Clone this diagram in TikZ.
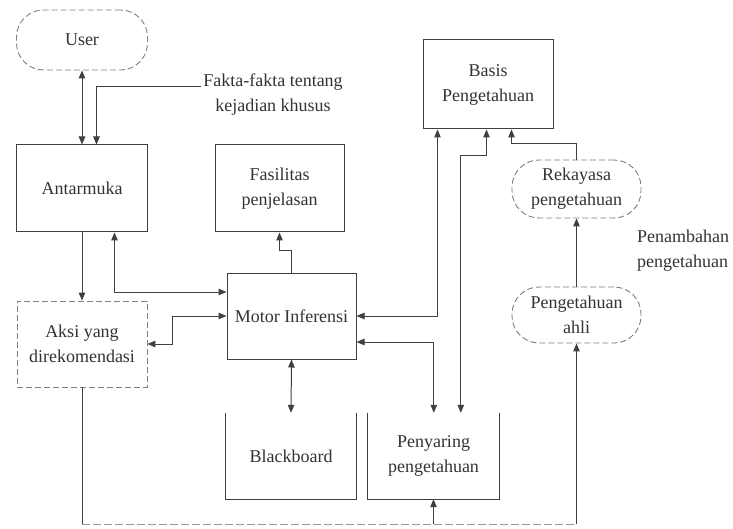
\documentclass[tikz,border=0pt]{standalone}
\usepackage{fontspec}
\setmainfont{Liberation Serif}
\usetikzlibrary{arrows.meta,calc}
\begin{document}
\begin{tikzpicture}[x=1pt,y=-1pt,
  every node/.style={font=\fontsize{18}{25}\selectfont, text=black!80, align=center, inner sep=0pt},
  box/.style={draw=black!75, line width=1pt},
  dbox/.style={draw=black!50, line width=0.9pt, dash pattern=on 6pt off 3pt},
  pill/.style={dbox, rounded corners=27pt},
  plain/.style={draw=black!75, line width=1pt},
  conn/.style={plain, -{Triangle[length=8pt,width=6.5pt]}},
  biconn/.style={plain, {Triangle[length=8pt,width=6.5pt]}-{Triangle[length=8pt,width=6.5pt]}}
]
\useasboundingbox (0,0) rectangle (733,529);
\fill[white] (0,0) rectangle (733,529);

% nodes
\node[pill, minimum width=131pt, minimum height=60pt] (user) at (82,40) {User};
\node[box, minimum width=131pt, minimum height=87pt] (antar) at (82,188.5) {Antarmuka};
\node[box, minimum width=129pt, minimum height=87pt] (fasil) at (279.5,188.5) {Fasilitas\\penjelasan};
\node[box, minimum width=130pt, minimum height=89pt] (basis) at (488,84.5) {Basis\\Pengetahuan};
\node[pill, minimum width=129pt, minimum height=58pt] (rekay) at (576.5,189) {Rekayasa\\pengetahuan};
\node[pill, minimum width=129pt, minimum height=56pt] (ahli) at (576.5,315) {Pengetahuan\\ahli};
\node[box, minimum width=129pt, minimum height=86pt] (motor) at (291.5,316) {Motor Inferensi};
\node[dbox, minimum width=130pt, minimum height=86pt] (aksi) at (82,344) {Aksi yang\\direkomendasi};
\node[minimum width=130pt, minimum height=86pt] (black) at (291,456) {Blackboard};
\node[minimum width=131pt, minimum height=86pt] (penya) at (433.5,456) {Penyaring\\pengetahuan};
\node (fakta) at (273,95) {Fakta-fakta tentang\\kejadian khusus};
\node[anchor=west, align=left] (penamb) at (637,251) {Penambahan\\pengetahuan};

% open-top boxes
\draw[plain] (black.north west) -- (black.south west) -- (black.south east) -- (black.north east);
\draw[plain] (penya.north west) -- (penya.south west) -- (penya.south east) -- (penya.north east);

% connectors
\draw[biconn] (user.south) -- (antar.north);
\draw[conn] ($(fakta.west)+(-2,-8)$) -| ($(antar.north west)+(80.5,0)$);
\draw[conn] (antar.south) -- (aksi.north);
\draw[biconn] ($(antar.south west)+(98.5,0)$) |- ($(motor.west)+(0,-24)$);
\draw[conn] (motor.north) |- ($(fasil.south)+(0,18)$) -- (fasil.south);
\draw[biconn] (aksi.east) -- ++(25,0) |- (motor.west);
\draw[biconn] (motor.south) -- (black.north);
\draw[biconn] ($(basis.south west)+(15,0)$) |- (motor.east);
\draw[biconn] ($(motor.east)+(0,26)$) -| ($(penya.north west)+(66,0)$);
\draw[biconn] ($(basis.south west)+(64,0)$) -- ++(0,26) -| ($(penya.north west)+(93,0)$);
\draw[conn] (rekay.north) |- ($(basis.south west)+(89,14)$) -- ($(basis.south west)+(89,0)$);
\draw[conn] (ahli.north) -- (rekay.south);

% bottom feedback line
\coordinate (bl) at (82,524);
\draw[plain] (aksi.south) -- (aksi.south |- bl);
\draw[draw=black!40, line width=0.9pt, dash pattern=on 8pt off 3pt] (aksi.south |- bl) -- (ahli.south |- bl);
\draw[conn] (ahli.south |- bl) -- (ahli.south);
\draw[conn] (penya.south |- bl) -- (penya.south);
\end{tikzpicture}
\end{document}
